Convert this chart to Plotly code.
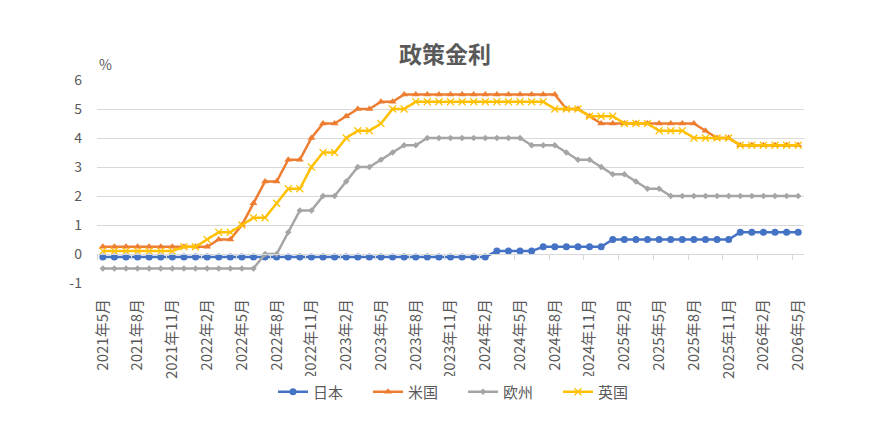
import plotly.graph_objects as go

# Category labels: monthly, 2021年5月 .. 2026年5月
months = []
y, m = 2021, 5
while (y, m) <= (2026, 5):
    months.append(f"{y}年{m}月")
    m += 1
    if m > 12:
        m = 1
        y += 1

japan = ([-0.1] * 34 + [0.1] * 4 + [0.25] * 6 + [0.5] * 11 + [0.75] * 6)
usa = ([0.25] * 10 + [0.5] * 2 + [1.0] + [1.75] + [2.5] * 2 + [3.25] * 2 + [4.0] +
       [4.5] * 2 + [4.75] + [5.0] * 2 + [5.25] * 2 + [5.5] * 14 + [5.0] * 2 + [4.75] +
       [4.5] * 9 + [4.25] + [4.0] * 2 + [3.75] * 6)
europe = ([-0.5] * 14 + [0.0] * 2 + [0.75] + [1.5] * 2 + [2.0] * 2 + [2.5] + [3.0] * 2 +
          [3.25] + [3.5] + [3.75] * 2 + [4.0] * 9 + [3.75] * 3 + [3.5] + [3.25] * 2 +
          [3.0] + [2.75] * 2 + [2.5] + [2.25] * 2 + [2.0] * 12)
uk = ([0.1] * 7 + [0.25] * 2 + [0.5] + [0.75] * 2 + [1.0] + [1.25] * 2 + [1.75] +
      [2.25] * 2 + [3.0] + [3.5] * 2 + [4.0] + [4.25] * 2 + [4.5] + [5.0] * 2 +
      [5.25] * 12 + [5.0] * 3 + [4.75] * 3 + [4.5] * 3 + [4.25] * 3 + [4.0] * 4 + [3.75] * 6)

series_names = ["日本", "米国", "欧州", "英国"]
y_ticks = [-1, 0, 1, 2, 3, 4, 5, 6]
y_tick_text = ["-1", "0", "1", "2", "3", "4", "5", "6"]

FONT = "Noto Sans CJK JP"
TXT = "#595959"
GRID = "#D9D9D9"

fig = go.Figure()
styles = [
    (japan, "#4472C4", dict(symbol="circle", size=7)),
    (usa, "#ED7D31", dict(symbol="triangle-up", size=7)),
    (europe, "#A5A5A5", dict(symbol="diamond", size=5)),
    (uk, "#FFC000", dict(symbol="x-thin", size=7, line=dict(width=1.2, color="#FFC000"))),
]
for name, (vals, col, mk) in zip(series_names, styles):
    fig.add_trace(go.Scatter(
        x=months, y=vals, name=name, mode="lines+markers",
        line=dict(color=col, width=2.5),
        marker=dict(color=col, **mk),
        hoverinfo="skip",
    ))

# helper trace for the axis line at y=0 with tick marks
fig.add_trace(go.Scatter(x=months, y=[None] * len(months), xaxis="x2",
                         showlegend=False, hoverinfo="skip", mode="lines"))

fig.update_layout(
    width=890, height=434,
    margin=dict(l=97, r=86, t=80, b=151, autoexpand=False),
    paper_bgcolor="white", plot_bgcolor="white",
    font=dict(family=FONT, color=TXT, size=14),
    title=dict(text="<b>政策金利</b>", x=0.5, xanchor="center", y=1 - 55 / 434,
               yanchor="middle", font=dict(size=23, color=TXT, family=FONT)),
    showlegend=True,
    legend=dict(orientation="h", xref="container", yref="container",
                x=0.5 + 18 / 890, xanchor="center", y=1 - 392 / 434, yanchor="middle",
                font=dict(size=15, color=TXT, family=FONT),
                entrywidth=50, entrywidthmode="pixels",
                traceorder="normal"),
    xaxis=dict(type="category", categoryorder="array", categoryarray=months,
               range=[-0.5, len(months) - 0.5], dtick=3, tickangle=-90,
               showgrid=False, showline=False, zeroline=False, ticks="",
               ticklabelstandoff=12, automargin=False,
               tickfont=dict(size=15, color=TXT, family=FONT)),
    xaxis2=dict(type="category", categoryorder="array", categoryarray=months,
                range=[-0.5, len(months) - 0.5], overlaying="x", anchor="free",
                position=(0 - y_ticks[0]) / (y_ticks[-1] - y_ticks[0]),
                dtick=3, tickson="boundaries", ticks="outside", ticklen=5,
                tickcolor=GRID, showline=True, linecolor=GRID, linewidth=1,
                showgrid=False, showticklabels=False, zeroline=False, automargin=False),
    yaxis=dict(range=[y_ticks[0], y_ticks[-1]], tickvals=y_ticks, ticktext=y_tick_text,
               showgrid=True, gridcolor=GRID, gridwidth=1, zeroline=False,
               showline=False, ticks="", ticklabelstandoff=14, automargin=False,
               tickfont=dict(size=14, color=TXT, family=FONT)),
    annotations=[dict(text="%", xref="paper", yref="paper", x=0, y=1,
                      xanchor="left", yanchor="bottom", xshift=0, yshift=4,
                      showarrow=False, font=dict(size=14, color=TXT, family=FONT))],
)

fig.write_html("out.html")
